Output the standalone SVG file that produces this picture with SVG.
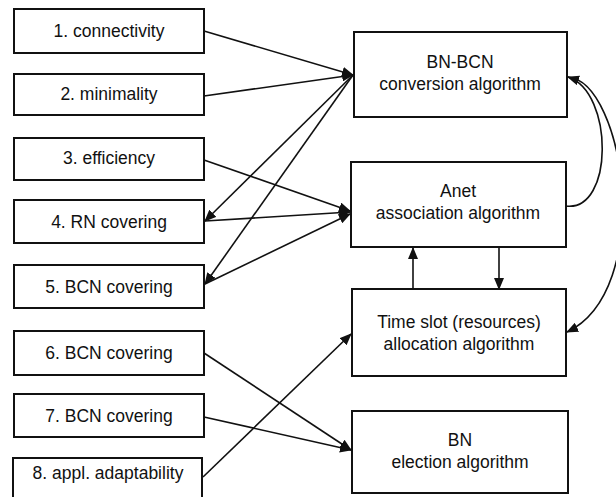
<svg xmlns="http://www.w3.org/2000/svg" width="616" height="497" viewBox="0 0 616 497">
  <defs>
    <marker id="arrow" viewBox="0 0 12 10" refX="11" refY="5" markerWidth="12" markerHeight="10" markerUnits="userSpaceOnUse" orient="auto">
      <path d="M0,0 L12,5 L0,10 Z" fill="#111"/>
    </marker>
    <style>
      .box { fill: #fff; stroke: #111; stroke-width: 2; }
      .lbl { font-family: "Liberation Sans", Arial, sans-serif; font-size: 17.5px; fill: #111; text-anchor: middle; }
      .edge { fill: none; stroke: #111; stroke-width: 1.6; marker-end: url(#arrow); }
    </style>
  </defs>
  <rect width="616" height="497" fill="#fff"/>

  <!-- requirement boxes -->
  <g id="req1"><rect class="box" x="14" y="9" width="190" height="44"/><text class="lbl" x="109" y="37">1. connectivity</text></g>
  <g id="req2"><rect class="box" x="14" y="74" width="190" height="41"/><text class="lbl" x="109" y="100">2. minimality</text></g>
  <g id="req3"><rect class="box" x="14" y="138" width="190" height="42"/><text class="lbl" x="109" y="164">3. efficiency</text></g>
  <g id="req4"><rect class="box" x="14" y="200" width="190" height="43"/><text class="lbl" x="109" y="228">4. RN covering</text></g>
  <g id="req5"><rect class="box" x="14" y="265" width="190" height="43"/><text class="lbl" x="109" y="293">5. BCN covering</text></g>
  <g id="req6"><rect class="box" x="14" y="331" width="190" height="44"/><text class="lbl" x="109" y="359">6. BCN covering</text></g>
  <g id="req7"><rect class="box" x="14" y="394" width="190" height="43"/><text class="lbl" x="109" y="422">7. BCN covering</text></g>
  <g id="req8"><rect class="box" x="13" y="458" width="189" height="46"/><text class="lbl" x="108" y="479">8. appl. adaptability</text></g>

  <!-- algorithm boxes -->
  <g id="conversion"><rect class="box" x="354" y="32" width="213" height="85"/><text class="lbl" x="460" y="68">BN-BCN</text><text class="lbl" x="460" y="90">conversion algorithm</text></g>
  <g id="association"><rect class="box" x="351" y="162" width="215" height="85"/><text class="lbl" x="458" y="197">Anet</text><text class="lbl" x="458" y="219">association algorithm</text></g>
  <g id="allocation"><rect class="box" x="352" y="289" width="214" height="87"/><text class="lbl" x="459" y="328">Time slot (resources)</text><text class="lbl" x="459" y="350">allocation algorithm</text></g>
  <g id="election"><rect class="box" x="352" y="411" width="216" height="82"/><text class="lbl" x="460" y="446">BN</text><text class="lbl" x="460" y="468">election algorithm</text></g>

  <!-- connectors -->
  <g id="connectors">
    <line class="edge" x1="204" y1="31" x2="353" y2="75"/>
    <line class="edge" x1="204" y1="96" x2="353" y2="75"/>
    <line class="edge" x1="353" y1="75" x2="205" y2="221"/>
    <line class="edge" x1="353" y1="75" x2="205" y2="284"/>
    <line class="edge" x1="204" y1="160" x2="350" y2="211"/>
    <line class="edge" x1="205" y1="221" x2="350" y2="212"/>
    <line class="edge" x1="205" y1="284" x2="350" y2="214"/>
    <line class="edge" x1="204" y1="353" x2="351" y2="450"/>
    <line class="edge" x1="204" y1="417" x2="351" y2="450"/>
    <line class="edge" x1="203" y1="477" x2="351" y2="334"/>
    <line class="edge" x1="413" y1="289" x2="413" y2="248"/>
    <line class="edge" x1="499" y1="248" x2="499" y2="289"/>
    <path class="edge" d="M566,206 C614,212 614,92 568,77"/>
    <path class="edge" d="M568,77 C625,82 655,290 567,332"/>
  </g>
</svg>
